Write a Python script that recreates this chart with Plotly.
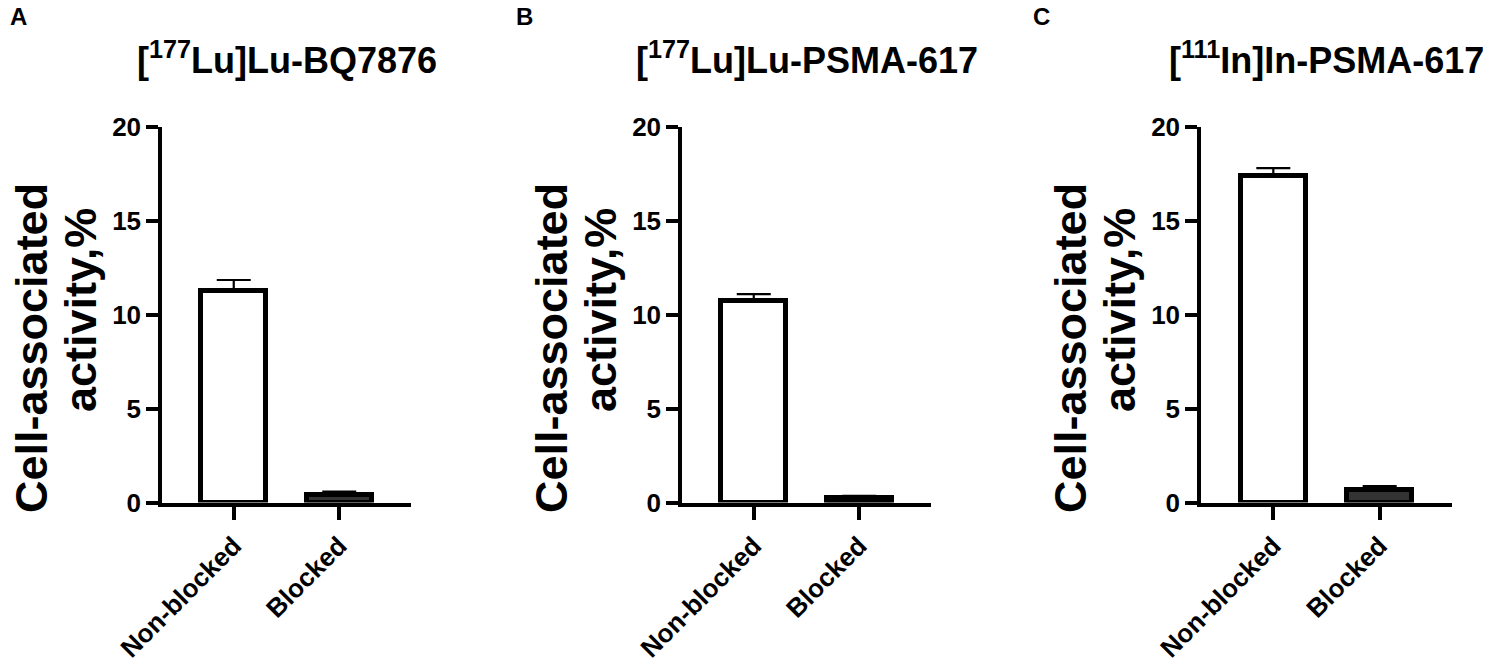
import plotly.graph_objects as go

# ---- data ----
categories = ["Non-blocked", "Blocked"]
panel_titles = ["[<sup>177</sup>Lu]Lu-BQ7876",
                "[<sup>177</sup>Lu]Lu-PSMA-617",
                "[<sup>111</sup>In]In-PSMA-617"]
panel_letters = ["A", "B", "C"]
bq7876_mean = [11.25, 0.40]
bq7876_err = [0.60, 0.18]
lu_psma_mean = [10.75, 0.25]
lu_psma_err = [0.35, 0.10]
in_psma_mean = [17.41, 0.68]
in_psma_err = [0.40, 0.20]
y_ticks = [0, 5, 10, 15, 20]
y_title_lines = ["Cell-associated", "activity,%"]

means = [bq7876_mean, lu_psma_mean, in_psma_mean]
errs = [bq7876_err, lu_psma_err, in_psma_err]

OFF = 8  # default page body margin
W, H = 1491 - 2 * OFF, 672 - 2 * OFF
FONT = "Liberation Sans, Arial, sans-serif"


def px_x(p):
    return (p - OFF) / W


def px_y(p):
    return 1 - (p - OFF) / H


x_px = [(162, 411), (682, 931), (1201, 1452)]
y_top_px, y_bot_px = 127, 502.5
ydom = [px_y(y_bot_px), px_y(y_top_px)]
fills = ["#ffffff", "#333333"]

fig = go.Figure()
for i in range(3):
    sfx = "" if i == 0 else str(i + 1)
    fig.add_trace(go.Bar(
        x=categories, y=means[i],
        width=0.615,
        marker=dict(color=fills, line=dict(color="black", width=5)),
        error_y=dict(type="data", symmetric=False, array=errs[i],
                     arrayminus=[0, 0], color="black", thickness=2.2, width=17),
        xaxis="x" + sfx, yaxis="y" + sfx, showlegend=False,
    ))
    x0, x1 = x_px[i]
    fig.layout["xaxis" + sfx] = dict(
        domain=[px_x(x0), px_x(x1)], anchor="y" + sfx, automargin=False,
        type="category", range=[-0.68, 1.68],
        showline=True, linecolor="black", linewidth=3.5,
        ticks="outside", ticklen=14, tickwidth=3.5, tickcolor="black",
        tickangle=-45, showgrid=False, zeroline=False,
        tickfont=dict(family=FONT, size=26, color="black", weight="bold"),
    )
    fig.layout["yaxis" + sfx] = dict(
        domain=ydom, anchor="x" + sfx, range=[0, 20], automargin=False,
        tickvals=y_ticks, showline=True, linecolor="black", linewidth=3.5,
        ticks="outside", ticklen=12, tickwidth=3.5, tickcolor="black",
        showgrid=False, zeroline=False,
        tickfont=dict(family=FONT, size=26, color="black", weight="bold"),
    )
    # panel title
    fig.add_annotation(x=px_x((x0 + x1) / 2), y=px_y(58), xref="paper", yref="paper",
                       text=panel_titles[i], showarrow=False, xanchor="center", yanchor="middle",
                       font=dict(family=FONT, size=36, color="black", weight="bold"))
    # panel letter
    fig.add_annotation(x=px_x([8, 514, 1031][i]), y=px_y(17), xref="paper", yref="paper",
                       text=panel_letters[i], showarrow=False, xanchor="left", yanchor="middle",
                       font=dict(family=FONT, size=24, color="black", weight="bold"))
    # y-axis title (two separately placed lines)
    for dx, cy, line in [(-131, 348, y_title_lines[0]), (-82, 310, y_title_lines[1])]:
        fig.add_annotation(x=px_x(x0 + dx), y=px_y(cy), xref="paper", yref="paper",
                           text=line, showarrow=False, textangle=-90,
                           xanchor="center", yanchor="middle",
                           font=dict(family=FONT, size=45, color="black", weight="bold"))

fig.update_layout(
    width=W, height=H, margin=dict(l=0, r=0, t=0, b=0, autoexpand=False),
    paper_bgcolor="white", plot_bgcolor="white", bargap=0,
)
fig.write_html("out.html")
